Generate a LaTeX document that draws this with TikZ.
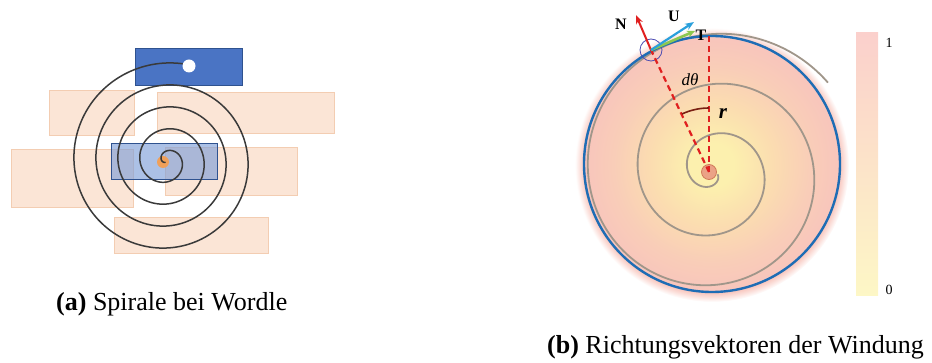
\documentclass[tikz,border=0pt]{standalone}
\usepackage{fontspec}
\setmainfont{Liberation Serif}
\usetikzlibrary{arrows.meta}
\definecolor{peachfill}{HTML}{FBE5D6}
\definecolor{peachline}{HTML}{F3CDB2}
\definecolor{bluefill}{HTML}{4A74C4}
\definecolor{blueline}{HTML}{2F528F}
\definecolor{lightblue}{HTML}{7F9FD8}
\definecolor{spiralgray}{HTML}{3A3A3A}
\definecolor{orangedot}{HTML}{F0A05A}
\definecolor{hc0}{HTML}{FCF0AE}
\definecolor{hc1}{HTML}{FBDDB0}
\definecolor{hc2}{HTML}{F9CDB8}
\definecolor{hc3}{HTML}{F8C5BC}
\definecolor{circblue}{HTML}{1E6DB5}
\definecolor{graysp}{HTML}{A0968A}
\definecolor{reddash}{HTML}{E02020}
\definecolor{arcbrown}{HTML}{7A2012}
\definecolor{ucyan}{HTML}{2AA0DC}
\definecolor{tgreen}{HTML}{8CC850}
\definecolor{dotfill}{HTML}{EBA286}
\definecolor{dotline}{HTML}{D07A58}
\definecolor{bartop}{HTML}{FBD0CC}
\definecolor{barbot}{HTML}{FDF7C6}
\pgfdeclareradialshading{halo}{\pgfpoint{0bp}{0bp}}{color(0bp)=(hc0); color(4bp)=(hc0); color(11bp)=(hc1); color(18bp)=(hc2); color(23.3bp)=(hc3); color(24bp)=(hc3!60!white); color(25bp)=(white); color(50bp)=(white)}
\tikzset{
  peach/.style={fill=peachfill, draw=peachline, line width=0.8pt},
  bluebox/.style={fill=bluefill, draw=blueline, line width=0.8pt},
  midbox/.style={fill=lightblue, fill opacity=0.65, draw=blueline, line width=0.8pt},
  spiralA/.style={draw=spiralgray, line width=1.5pt},
  spiralB/.style={draw=graysp, line width=1.8pt},
  redd/.style={draw=reddash, line width=2.2pt, dash pattern=on 6pt off 4pt},
  lab/.style={inner sep=0pt, font=\fontsize{16}{18}\selectfont\bfseries},
  caption/.style={inner sep=0pt, anchor=base west, font=\fontsize{26}{30}\selectfont},
  barlab/.style={inner sep=0pt, font=\fontsize{14}{16}\selectfont},
}
\begin{document}
\begin{tikzpicture}[x=1pt,y=-1pt]
\useasboundingbox (0,0) rectangle (932,363);
% ---------- panel (a) ----------
\draw[peach] (49,90) rectangle (134,135);
\draw[peach] (157,92) rectangle (334,133);
\draw[peach] (11,149) rectangle (133,207);
\draw[peach] (165,147) rectangle (297,195);
\draw[peach] (114,217) rectangle (268,253);
\draw[midbox] (111,143) rectangle (217,179);
\draw[bluebox] (135,48) rectangle (242,85);
\fill[orangedot] (163,162) circle (6);
\draw[spiralA] plot[domain=25:1617, samples=500, smooth]
  ({166.5+\x/360*22*cos(77+1617-\x)}, {161-\x/360*22*sin(77+1617-\x)});
\node[circle, fill=white, minimum size=13pt, inner sep=0pt] (endA) at (189,66) {};
\node[caption] (capa) at (56,311) {\textbf{(a)} Spirale bei Wordle};
% ---------- panel (b) ----------
\shade[shading=halo] (712,165) circle (137);
\draw[spiralB] plot[domain=-150:862, samples=400, smooth]
  ({713.5+(25.5+\x/360*50)*cos(180-\x)}, {172-(25.5+\x/360*50)*sin(180-\x)});
\draw[circblue, line width=2.4pt] (712,164) circle (128);
\node[circle, fill=dotfill, draw=dotline, line width=0.8pt, minimum size=15pt, inner sep=0pt] (dot) at (709,172) {};
\node[circle, draw=blue!40!gray, line width=0.8pt, minimum size=22pt, inner sep=0pt] (pc) at (651,50) {};
\coordinate (tt) at (709,36);
\coordinate (nt) at (636,15);
\coordinate (ut) at (694,22);
\coordinate (gt) at (695,31);
\draw[redd] (dot.center) -- (tt);
\draw[redd] (dot.center) -- (pc.center);
\draw[arcbrown, line width=1.6pt] (709,108) arc[start angle=-90, end angle=-115, radius=64];
\draw[reddash, line width=2pt, -{Stealth[length=9pt,width=7pt]}] (pc.center) -- (nt);
\draw[tgreen, line width=2.6pt, -{Stealth[length=8pt,width=7pt]}] (pc.center) -- (gt);
\draw[ucyan, line width=2.2pt, -{Stealth[length=9pt,width=7pt]}] (pc.center) -- (ut);
\node[lab] (N) at (621,24) {N};
\node[lab] (U) at (674,16) {U};
\node[lab] (T) at (701,35) {T};
\node[inner sep=0pt, font=\fontsize{17}{20}\selectfont\itshape] (dth) at (690,80) {dθ};
\node[inner sep=0pt, font=\fontsize{21}{24}\selectfont\bfseries\itshape] (rr) at (723,114) {r};
\shade[top color=bartop, bottom color=barbot] (856,33) rectangle (878,296);
\node[barlab] (one) at (889,43) {1};
\node[barlab] (zero) at (889,290) {0};
\node[caption] (capb) at (547,353) {\textbf{(b)} Richtungsvektoren der Windung};
\end{tikzpicture}
\end{document}
